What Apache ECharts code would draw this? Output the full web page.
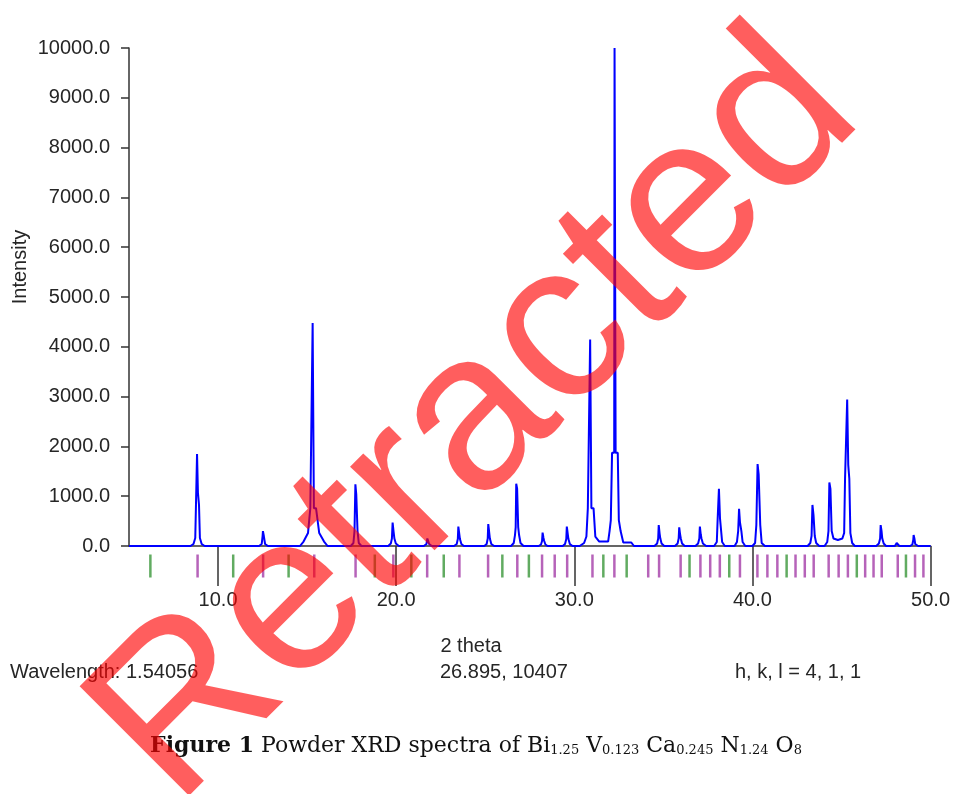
<!DOCTYPE html>
<html>
<head>
<meta charset="utf-8">
<script src="https://cdn.jsdelivr.net/npm/echarts@6/dist/echarts.min.js"></script>
<style>html,body{margin:0;padding:0;background:#fff;overflow:hidden}#c{width:953px;height:794px}</style>
</head>
<body>
<div id="c"></div>
<script>
// ---- data ----
const xTicks = [10, 20, 30, 40, 50];
const yTicks = [0, 1000, 2000, 3000, 4000, 5000, 6000, 7000, 8000, 9000, 10000];

// simulated powder pattern: [2theta, intensity]
const pattern = [
  [5.0,0],
  [8.45,0],[8.62,40],[8.72,160],[8.76,825],[8.82,1845],[8.85,1845],[8.87,1070],[8.9,1070],[8.93,825],[8.98,160],[9.08,40],[9.25,0],
  [12.3,0],[12.45,40],[12.5,200],[12.52,300],[12.55,300],[12.57,200],[12.64,40],[12.8,0],
  [14.6,0],[14.8,90],[15.05,260],[15.18,760],[15.28,760],[15.31,4480],[15.35,4480],[15.38,760],[15.5,760],[15.68,260],[15.95,90],[16.15,0],
  [17.45,0],[17.6,60],[17.66,300],[17.71,1240],[17.74,1240],[17.76,1030],[17.79,1030],[17.83,300],[17.9,60],[18.05,0],
  [19.55,0],[19.7,50],[19.76,150],[19.8,470],[19.83,470],[19.85,300],[19.9,150],[19.98,50],[20.15,0],
  [21.55,0],[21.7,40],[21.75,150],[21.78,150],[21.85,40],[22.0,0],
  [23.25,0],[23.4,40],[23.46,140],[23.49,390],[23.52,390],[23.54,250],[23.58,140],[23.66,40],[23.8,0],
  [24.95,0],[25.08,40],[25.14,150],[25.17,440],[25.2,440],[25.22,280],[25.26,150],[25.34,40],[25.5,0],
  [26.45,0],[26.6,60],[26.67,220],[26.71,380],[26.74,1250],[26.77,1250],[26.79,1150],[26.82,1150],[26.85,380],[26.9,220],[26.98,60],[27.15,0],
  [28.0,0],[28.13,30],[28.19,100],[28.22,270],[28.25,270],[28.27,160],[28.31,100],[28.38,30],[28.5,0],
  [29.35,0],[29.48,40],[29.55,140],[29.58,390],[29.61,390],[29.63,250],[29.67,140],[29.75,40],[29.9,0],
  [30.3,0],[30.55,60],[30.68,190],[30.76,760],[30.86,760],[30.89,4145],[30.93,4145],[30.96,760],[31.08,760],[31.18,190],[31.4,90],[31.9,90],[31.98,300],[32.05,520],[32.12,1870],[32.24,1870],[32.26,10000],[32.3,10000],[32.32,1870],[32.44,1870],[32.5,520],[32.6,300],[32.75,70],[33.2,70],[33.35,0],
  [34.5,0],[34.65,50],[34.71,150],[34.74,420],[34.77,420],[34.79,250],[34.83,150],[34.9,50],[35.05,0],
  [35.65,0],[35.8,50],[35.86,150],[35.89,375],[35.92,375],[35.94,230],[35.98,150],[36.05,50],[36.2,0],
  [36.8,0],[36.95,50],[37.02,150],[37.05,390],[37.08,390],[37.1,230],[37.14,150],[37.22,50],[37.4,0],
  [37.85,0],[38.0,80],[38.05,555],[38.12,1150],[38.15,1150],[38.18,555],[38.24,555],[38.3,80],[38.45,0],
  [39.0,0],[39.13,80],[39.2,300],[39.25,745],[39.28,745],[39.3,480],[39.34,480],[39.38,300],[39.45,80],[39.6,0],
  [40.0,0],[40.15,60],[40.22,420],[40.29,1645],[40.32,1645],[40.35,1440],[40.38,1440],[40.44,420],[40.52,60],[40.7,0],
  [43.1,0],[43.25,60],[43.32,200],[43.37,825],[43.4,825],[43.43,620],[43.46,620],[43.5,200],[43.58,60],[43.75,0],
  [44.05,0],[44.2,80],[44.27,300],[44.32,1275],[44.35,1275],[44.38,1145],[44.41,1145],[44.45,300],[44.55,150],[44.8,120],[45.05,150],[45.15,260],[45.2,1350],[45.3,1350],[45.32,2940],[45.35,2940],[45.38,1630],[45.41,1630],[45.44,1350],[45.5,260],[45.6,60],[45.75,0],
  [46.95,0],[47.1,50],[47.17,150],[47.2,420],[47.23,420],[47.25,300],[47.29,150],[47.37,50],[47.5,0],
  [48.0,0],[48.1,60],[48.16,60],[48.25,0],
  [48.85,0],[48.98,30],[49.03,120],[49.05,220],[49.08,220],[49.1,140],[49.14,40],[49.3,0],
  [50.0,0]
];

// reflection markers (2theta positions)
const greenMarks = [6.2, 10.85, 13.96, 18.8, 20.85, 22.67, 25.96, 27.45, 31.63, 32.94, 36.47, 38.7, 41.92, 45.86, 48.62];
const purpleMarks = [8.85, 12.53, 15.4, 17.72, 19.84, 21.74, 23.55, 25.16, 26.8, 28.19, 28.9, 29.6, 31.02, 32.25,
  34.15, 34.76, 35.97, 37.08, 37.63, 38.17, 39.3, 40.28, 40.84, 41.4, 42.42, 42.94, 43.44, 44.28, 44.84, 45.36,
  46.33, 46.8, 47.26, 48.16, 49.13, 49.6];

const yName = 'Intensity';
const xName = '2 theta';
const infoLeft = 'Wavelength: 1.54056';
const infoMid = '26.895, 10407';
const infoRight = 'h, k, l = 4, 1, 1';
const watermark = 'Retracted';

// ---- chart ----
const FONT = '"Liberation Sans", Arial, sans-serif';
const SERIF = '"DejaVu Serif", "Liberation Serif", serif';
const TXT = '#262626';
const chart = echarts.init(document.getElementById('c'), null, {renderer: 'canvas', width: 953, height: 794});
chart.setOption({
  animation: false,
  backgroundColor: '#fff',
  grid: {left: 129, right: 17, top: 48, bottom: 248, containLabel: false},
  xAxis: {
    type: 'value', min: 5, max: 50,
    axisLine: {show: true, onZero: false, lineStyle: {color: '#333', width: 1.5}},
    axisTick: {show: true, customValues: xTicks, length: 40, lineStyle: {color: '#333', width: 1.5}},
    axisLabel: {customValues: xTicks, formatter: v => v.toFixed(1), fontSize: 20, fontFamily: FONT, color: TXT, margin: 44},
    splitLine: {show: false}
  },
  yAxis: {
    type: 'value', min: 0, max: 10000, interval: 1000,
    axisLine: {show: true, lineStyle: {color: '#333', width: 1.5}},
    axisTick: {show: true, length: 8, lineStyle: {color: '#333', width: 1.5}},
    axisLabel: {formatter: v => v.toFixed(1), fontSize: 20, fontFamily: FONT, color: TXT, margin: 19},
    splitLine: {show: false}
  },
  series: [
    {
      type: 'line', data: pattern, showSymbol: false, smooth: false,
      lineStyle: {color: '#0000ff', width: 2}, z: 5, silent: true
    },
    {
      type: 'scatter', data: greenMarks.map(v => [v, 0]), symbol: 'rect', symbolSize: [2.5, 23],
      symbolOffset: [0, 20], clip: false, itemStyle: {color: '#3a963a'}, silent: true, z: 3
    },
    {
      type: 'scatter', data: purpleMarks.map(v => [v, 0]), symbol: 'rect', symbolSize: [2.5, 23],
      symbolOffset: [0, 20], clip: false, itemStyle: {color: '#a43ca8'}, silent: true, z: 3
    }
  ],
  graphic: [
    {type: 'text', x: 20, y: 267, rotation: Math.PI / 2,
     style: {text: yName, fontSize: 20, fontFamily: FONT, fill: TXT, align: 'center', verticalAlign: 'middle'}},
    {type: 'text', x: 471, y: 646,
     style: {text: xName, fontSize: 20, fontFamily: FONT, fill: TXT, align: 'center', verticalAlign: 'middle'}},
    {type: 'text', x: 10, y: 672,
     style: {text: infoLeft, fontSize: 20, fontFamily: FONT, fill: TXT, align: 'left', verticalAlign: 'middle'}},
    {type: 'text', x: 440, y: 672,
     style: {text: infoMid, fontSize: 20, fontFamily: FONT, fill: TXT, align: 'left', verticalAlign: 'middle'}},
    {type: 'text', x: 735, y: 672,
     style: {text: infoRight, fontSize: 20, fontFamily: FONT, fill: TXT, align: 'left', verticalAlign: 'middle'}},
    {type: 'text', x: 476, y: 746,
     style: {
       text: '{b|Figure 1} Powder XRD spectra of Bi{s|1.25} V{s|0.123} Ca{s|0.245} N{s|1.24} O{s|8}',
       fontSize: 22, fontFamily: SERIF, fill: '#111',
       align: 'center', verticalAlign: 'middle',
       rich: {
         b: {fontSize: 22, fontWeight: 'bold', fontFamily: SERIF, fill: '#111'},
         s: {fontSize: 13, fontFamily: SERIF, fill: '#111', verticalAlign: 'bottom', padding: [6, 0, 0, 0]}
       }
     }},
    {type: 'text', x: 477, y: 420, rotation: Math.PI / 4, z: 100,
     style: {text: watermark, fontSize: 225, fontFamily: FONT, fill: 'rgba(255,0,0,0.63)', align: 'center', verticalAlign: 'middle'}}
  ]
});
</script>
</body>
</html>
